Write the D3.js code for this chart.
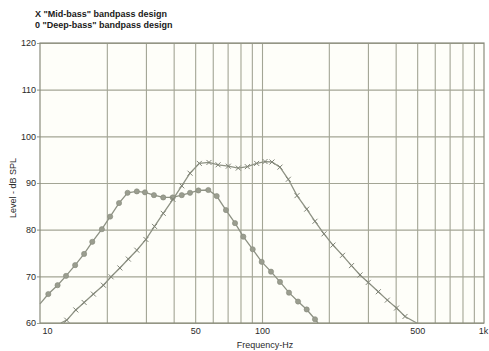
<!DOCTYPE html>
<html><head><meta charset="utf-8">
<script src="https://cdn.jsdelivr.net/npm/d3@7"></script>
<style>
html,body{margin:0;padding:0;background:#fff;}
svg{display:block;font-family:"Liberation Sans",Arial,sans-serif;}
</style></head>
<body><svg id="c" width="489" height="351"></svg>
<script>
const legendLabels = ['X "Mid-bass" bandpass design', '0 "Deep-bass" bandpass design'];
const yTicks = [60, 70, 80, 90, 100, 110, 120];
const xLabelTicks = [10, 50, 100, 500, 1000];
const xLabelText = ["10", "50", "100", "500", "1k"];
const xGridTicks = [20,30,40,50,60,70,80,90,100,200,300,400,500,600,700,800,900];

const deepFreq = [10,10.9,12.0,13.1,14.4,15.8,17.2,19.0,20.7,22.7,24.8,27.3,29.7,32.6,35.9,39.6,43.5,47.4,51.7,57.3,62.5,68.8,75.6,82.4,90.8,99.7,109.8,120.5,132.3,145.3,159.0,173.3,178.8];
const deepLevel = [64.1,66.2,68.1,70.1,72.4,74.8,77.4,80.1,82.8,85.7,87.9,88.2,88.0,87.4,86.9,86.9,87.4,87.9,88.4,88.5,87.2,84.2,81.4,78.5,75.8,73.1,71.0,68.8,66.5,64.6,62.9,60.8,60.0];

const midFreq = [12.4,13.2,14.5,15.8,17.4,19.3,20.9,22.9,25.0,27.3,30.0,32.8,35.9,39.7,43.5,47.4,52.2,57.7,63.4,70.5,78.2,85.9,94.6,103.2,110.9,120.5,131.4,143.8,159.0,173.3,190.2,208.8,230.5,253.1,276.4,301.2,334.2,366.8,403.5,440.8,497.6];
const midLevel = [60.0,60.6,62.8,64.4,66.2,68.1,69.9,71.8,73.7,75.6,77.9,80.7,83.5,86.5,89.4,92.1,94.2,94.4,93.9,93.6,93.2,93.5,94.2,94.6,94.5,93.4,90.8,87.3,84.4,81.8,79.1,76.7,74.5,72.3,70.3,68.7,66.7,64.9,63.2,61.4,60.0];

const svg = d3.select("#c");
const L = 40, R = 484, T = 43, B = 323;
const x = d3.scaleLog().domain([10, 1000]).range([L, R]);
const y = d3.scaleLinear().domain([60, 120]).range([B, T]);

const gridCol = "#a3a595", textCol = "#2a2a2a", lineCol = "#8e9284";

// plot background
svg.append("rect").attr("x", L).attr("y", T).attr("width", R - L).attr("height", B - T).attr("fill", "#fefef9");

// vertical grid
svg.append("g").attr("transform", `translate(0,${B})`)
  .call(d3.axisBottom(x).tickValues(xGridTicks).tickSize(-(B - T)).tickFormat(""))
  .call(g => g.select(".domain").remove())
  .call(g => g.selectAll("line").attr("stroke", gridCol).attr("stroke-width", 1.1));

// horizontal grid + y labels
svg.append("g").attr("transform", `translate(${L},0)`)
  .call(d3.axisLeft(y).tickValues(yTicks).tickSize(-(R - L)).tickPadding(4).tickFormat(d3.format("d")))
  .call(g => g.select(".domain").remove())
  .call(g => g.selectAll("line").attr("stroke", gridCol).attr("stroke-width", 1.1).attr("x1", -3))
  .call(g => g.selectAll("text").attr("fill", textCol).attr("font-size", 9).attr("font-family", "Liberation Sans, Arial, sans-serif"));

// x labels
const xa = svg.append("g").attr("transform", `translate(0,${B})`)
  .call(d3.axisBottom(x).tickValues(xLabelTicks).tickSize(0).tickPadding(5).tickFormat((d, i) => xLabelText[i]))
  .call(g => g.select(".domain").remove())
  .call(g => g.selectAll("text").attr("fill", textCol).attr("font-size", 9).attr("font-family", "Liberation Sans, Arial, sans-serif"));
xa.selectAll(".tick").filter(d => d === 10).select("text").attr("text-anchor", "start").attr("dx", 2);
xa.selectAll(".tick").filter(d => d === 1000).select("text").attr("dx", -1);

// border
svg.append("rect").attr("x", L).attr("y", T).attr("width", R - L).attr("height", B - T)
  .attr("fill", "none").attr("stroke", "#8a8c7c").attr("stroke-width", 1.2);

const line = d3.line().x(d => x(d[0])).y(d => y(d[1]));
const deep = deepFreq.map((f, i) => [f, deepLevel[i]]);
const mid = midFreq.map((f, i) => [f, midLevel[i]]);

const clipG = svg.append("g");
clipG.append("path").datum(deep).attr("d", line).attr("fill", "none").attr("stroke", lineCol).attr("stroke-width", 1.3);
clipG.append("path").datum(mid).attr("d", line).attr("fill", "none").attr("stroke", lineCol).attr("stroke-width", 1.3);

clipG.selectAll("circle.deep").data(deep.slice(1, -1)).join("circle")
  .attr("cx", d => x(d[0])).attr("cy", d => y(d[1])).attr("r", 2.6)
  .attr("fill", "#9a9d8f").attr("stroke", "#868a7c").attr("stroke-width", 0.6);

const xs = 2.5;
clipG.selectAll("path.mk").data(mid.slice(1, -1)).join("path")
  .attr("d", d => { const cx = x(d[0]), cy = y(d[1]); return `M${cx - xs},${cy - xs}L${cx + xs},${cy + xs}M${cx - xs},${cy + xs}L${cx + xs},${cy - xs}`; })
  .attr("stroke", "#7f8376").attr("stroke-width", 1);

// legend
svg.selectAll("text.leg").data(legendLabels).join("text")
  .attr("x", 35).attr("y", (d, i) => 17 + i * 11)
  .attr("font-size", 9).attr("fill", "#1a1a1a").attr("font-weight", "bold")
  .attr("font-family", "Liberation Sans, Arial, sans-serif").text(d => d);

// axis titles
svg.append("text").attr("x", (L + R) / 2 + 3).attr("y", 348).attr("text-anchor", "middle")
  .attr("font-size", 9).attr("fill", textCol).text("Frequency-Hz");
svg.append("text").attr("transform", `translate(16,${(T + B) / 2 + 5}) rotate(-90)`).attr("text-anchor", "middle")
  .attr("font-size", 9).attr("fill", textCol).text("Level - dB SPL");
</script></body></html>
